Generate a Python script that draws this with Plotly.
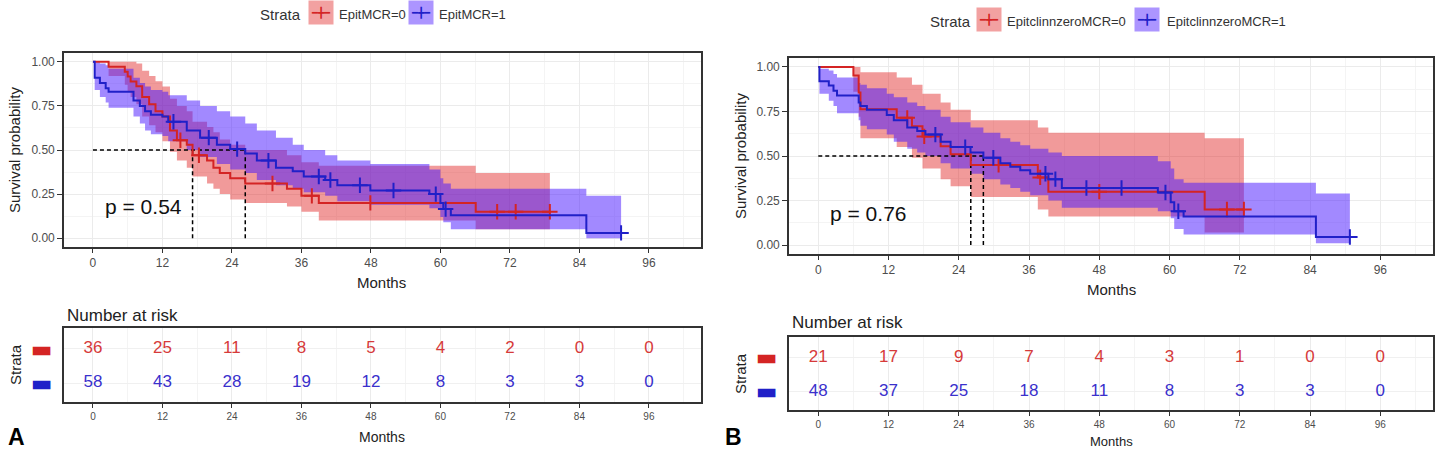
import plotly.graph_objects as go

W, H = 1443, 450


def X(px):
    return px / W


def Y(py):
    return 1 - py / H


month_ticks_step = 12

# ---------------- Panel A data ----------------
a_strata = ["EpitMCR=0", "EpitMCR=1"]
a0_time = [0, 2.7, 5.5, 6.0, 6.5, 7.5, 8.5, 9.7, 10.8, 12.0, 13.3, 14.5, 16.2, 17.2, 19.7, 20.8, 21.9, 23.7, 26.3, 33.5, 36.0, 39.0, 66.1, 78.9]
a0_surv = [1.0, 0.972, 0.944, 0.917, 0.889, 0.861, 0.80, 0.76, 0.72, 0.69, 0.61, 0.555, 0.53, 0.47, 0.44, 0.40, 0.37, 0.34, 0.31, 0.28, 0.24, 0.20, 0.15, 0.15]
a0_upper = [1.0, 1.0, 1.0, 1.0, 1.0, 0.99, 0.95, 0.92, 0.89, 0.86, 0.79, 0.75, 0.72, 0.66, 0.63, 0.60, 0.56, 0.53, 0.50, 0.47, 0.43, 0.41, 0.37, 0.37]
a0_lower = [1.0, 0.92, 0.87, 0.83, 0.80, 0.76, 0.69, 0.64, 0.60, 0.55, 0.49, 0.44, 0.40, 0.35, 0.31, 0.28, 0.25, 0.22, 0.20, 0.18, 0.15, 0.10, 0.05, 0.05]
a0_cens = [15.1, 18.3, 31.0, 37.8, 47.9, 69.8, 73.0, 78.9]

a1_time = [0, 0.3, 1.2, 2.2, 2.7, 7.0, 8.1, 9.0, 10.0, 12.0, 13.0, 16.2, 18.5, 21.4, 23.7, 26.3, 28.3, 31.6, 34.5, 36.4, 40.1, 42.2, 47.9, 58.1, 60.0, 60.5, 61.8, 85.2, 91.2]
a1_surv = [1.0, 0.91, 0.88, 0.85, 0.83, 0.78, 0.75, 0.72, 0.70, 0.69, 0.66, 0.61, 0.57, 0.53, 0.505, 0.48, 0.44, 0.40, 0.38, 0.35, 0.33, 0.30, 0.27, 0.25, 0.20, 0.165, 0.13, 0.03, 0.03]
a1_upper = [1.0, 1.0, 0.99, 0.98, 0.96, 0.91, 0.88, 0.86, 0.84, 0.83, 0.81, 0.78, 0.75, 0.72, 0.69, 0.65, 0.61, 0.57, 0.53, 0.50, 0.47, 0.44, 0.42, 0.39, 0.34, 0.31, 0.28, 0.24, 0.24]
a1_lower = [1.0, 0.84, 0.80, 0.77, 0.74, 0.69, 0.65, 0.61, 0.59, 0.58, 0.55, 0.50, 0.46, 0.42, 0.39, 0.37, 0.33, 0.30, 0.28, 0.26, 0.24, 0.21, 0.19, 0.17, 0.12, 0.09, 0.05, 0.0, 0.0]
a1_cens = [13.9, 20.0, 24.9, 30.3, 39.0, 41.0, 46.1, 51.9, 59.2, 60.9, 91.2]

a_medians = [17.2, 26.3]
a_pvalue = "p = 0.54"
a_risk_times = [0, 12, 24, 36, 48, 60, 72, 84, 96]
a_risk0 = [36, 25, 11, 8, 5, 4, 2, 0, 0]
a_risk1 = [58, 43, 28, 19, 12, 8, 3, 3, 0]

# ---------------- Panel B data ----------------
b_strata = ["EpitclinnzeroMCR=0", "EpitclinnzeroMCR=1"]
b0_time = [0, 6.0, 6.9, 7.2, 13.4, 16.0, 17.8, 20.9, 22.6, 26.05, 37.5, 39.3, 66.0, 72.7]
b0_surv = [1.0, 0.952, 0.857, 0.762, 0.714, 0.667, 0.61, 0.555, 0.51, 0.45, 0.38, 0.30, 0.20, 0.20]
b0_upper = [1.0, 1.0, 1.0, 0.97, 0.94, 0.90, 0.85, 0.80, 0.76, 0.70, 0.66, 0.63, 0.60, 0.60]
b0_lower = [1.0, 0.86, 0.72, 0.60, 0.55, 0.49, 0.43, 0.37, 0.33, 0.27, 0.20, 0.16, 0.07, 0.07]
b0_cens = [15.2, 18.1, 30.8, 37.9, 48.0, 69.8, 72.7]

b1_time = [0, 0.2, 1.8, 2.6, 3.2, 6.9, 7.2, 8.3, 11.7, 12.9, 15.2, 16.9, 18.3, 20.9, 22.6, 26.0, 28.2, 31.1, 32.8, 34.5, 36.2, 39.3, 41.6, 58.0, 60.2, 60.8, 62.4, 85.0, 90.8]
b1_surv = [1.0, 0.92, 0.895, 0.866, 0.84, 0.80, 0.78, 0.76, 0.73, 0.70, 0.66, 0.64, 0.62, 0.58, 0.55, 0.52, 0.49, 0.46, 0.44, 0.42, 0.40, 0.37, 0.32, 0.295, 0.24, 0.19, 0.16, 0.045, 0.045]
b1_upper = [1.0, 0.99, 0.98, 0.96, 0.94, 0.91, 0.90, 0.88, 0.85, 0.83, 0.80, 0.78, 0.76, 0.72, 0.69, 0.66, 0.63, 0.60, 0.58, 0.56, 0.54, 0.52, 0.50, 0.47, 0.43, 0.37, 0.35, 0.29, 0.29]
b1_lower = [1.0, 0.85, 0.81, 0.78, 0.74, 0.70, 0.67, 0.65, 0.62, 0.58, 0.54, 0.52, 0.50, 0.46, 0.43, 0.40, 0.37, 0.34, 0.32, 0.30, 0.28, 0.25, 0.21, 0.19, 0.15, 0.09, 0.06, 0.01, 0.01]
b1_cens = [20.0, 25.1, 29.9, 38.8, 40.5, 45.8, 51.8, 59.3, 61.5, 90.8]

b_medians = [26.05, 28.2]
b_pvalue = "p = 0.76"
b_risk_times = [0, 12, 24, 36, 48, 60, 72, 84, 96]
b_risk0 = [21, 17, 9, 7, 4, 3, 1, 0, 0]
b_risk1 = [48, 37, 25, 18, 11, 8, 3, 3, 0]

# ---------------- styles ----------------
RED = "#D42424"
BLUE = "#2020C8"
RED_FILL = "rgba(225,30,30,0.45)"
BLUE_FILL = "rgba(70,20,255,0.50)"
RED_KEY = "rgba(225,30,30,0.42)"
BLUE_KEY = "rgba(70,20,255,0.45)"
RED_TXT = "#D63A3A"
BLUE_TXT = "#3A30CC"
FONT = "Liberation Sans, Arial, sans-serif"

fig = go.Figure()


def step_value(times, surv, t):
    v = surv[0]
    for ti, si in zip(times, surv):
        if ti <= t:
            v = si
    return v


def add_band(xa, ya, times, up, lo, fillc):
    fig.add_trace(go.Scatter(x=times, y=up, mode="lines", line=dict(width=0, shape="hv"),
                             hoverinfo="skip", showlegend=False, xaxis=xa, yaxis=ya))
    fig.add_trace(go.Scatter(x=times, y=lo, mode="lines", line=dict(width=0, shape="hv"),
                             fill="tonexty", fillcolor=fillc, hoverinfo="skip",
                             showlegend=False, xaxis=xa, yaxis=ya))


def add_curve(xa, ya, times, surv, cens, color):
    fig.add_trace(go.Scatter(x=times, y=surv, mode="lines", line=dict(width=2, shape="hv", color=color),
                             showlegend=False, xaxis=xa, yaxis=ya))
    fig.add_trace(go.Scatter(x=cens, y=[step_value(times, surv, c) for c in cens], mode="markers",
                             marker=dict(symbol="cross-thin", size=11, line=dict(width=2, color=color)),
                             showlegend=False, xaxis=xa, yaxis=ya))


def add_median(xa, ya, medians):
    fig.add_trace(go.Scatter(x=[0, max(medians)], y=[0.5, 0.5], mode="lines",
                             line=dict(color="black", width=1.5, dash="4px,3px"),
                             showlegend=False, xaxis=xa, yaxis=ya))
    for m in medians:
        fig.add_trace(go.Scatter(x=[m, m], y=[0, 0.5], mode="lines",
                                 line=dict(color="black", width=1.5, dash="4px,3px"),
                                 showlegend=False, xaxis=xa, yaxis=ya))


def add_risk(xa, ya, times, r0, r1):
    fig.add_trace(go.Scatter(x=times, y=[1] * len(times), mode="text", text=[str(v) for v in r0],
                             textfont=dict(size=17, color=RED_TXT, family=FONT),
                             showlegend=False, xaxis=xa, yaxis=ya))
    fig.add_trace(go.Scatter(x=times, y=[0] * len(times), mode="text", text=[str(v) for v in r1],
                             textfont=dict(size=17, color=BLUE_TXT, family=FONT),
                             showlegend=False, xaxis=xa, yaxis=ya))


# Panel A
add_band("x", "y", a0_time, a0_upper, a0_lower, RED_FILL)
add_band("x", "y", a1_time, a1_upper, a1_lower, BLUE_FILL)
add_median("x", "y", a_medians)
add_curve("x", "y", a0_time, a0_surv, a0_cens, RED)
add_curve("x", "y", a1_time, a1_surv, a1_cens, BLUE)
add_risk("x2", "y2", a_risk_times, a_risk0, a_risk1)

# Panel B
add_band("x3", "y3", b0_time, b0_upper, b0_lower, RED_FILL)
add_band("x3", "y3", b1_time, b1_upper, b1_lower, BLUE_FILL)
add_median("x3", "y3", b_medians)
add_curve("x3", "y3", b0_time, b0_surv, b0_cens, RED)
add_curve("x3", "y3", b1_time, b1_surv, b1_cens, BLUE)
add_risk("x4", "y4", b_risk_times, b_risk0, b_risk1)


def xaxis_style(domain, anchor, fsize):
    return dict(domain=domain, anchor=anchor, range=[-5, 105], tick0=0, dtick=month_ticks_step,
                ticks="outside", ticklen=4, tickcolor="#333", tickwidth=1,
                tickfont=dict(size=fsize, color="#4D4D4D", family=FONT),
                showline=True, mirror=True, linecolor="#333", linewidth=1.6,
                showgrid=True, gridcolor="#EBEBEB", gridwidth=1, zeroline=False,
                minor=dict(dtick=6, tick0=0, showgrid=True, gridcolor="#F4F4F4", gridwidth=0.7, ticks=""))


def yaxis_main(domain, anchor):
    return dict(domain=domain, anchor=anchor, range=[-0.05, 1.05], tick0=0, dtick=0.25, tickformat=".2f",
                ticks="outside", ticklen=5, tickcolor="#333", tickwidth=1,
                tickfont=dict(size=12, color="#4D4D4D", family=FONT),
                showline=True, mirror=True, linecolor="#333", linewidth=1.6,
                showgrid=True, gridcolor="#EBEBEB", gridwidth=1, zeroline=False,
                minor=dict(dtick=0.125, tick0=0, showgrid=True, gridcolor="#F4F4F4", gridwidth=0.7, ticks=""))


dash_red = '<span style="color:%s">▬</span>' % RED
dash_blue = '<span style="color:%s">▬</span>' % BLUE


def yaxis_risk(domain, anchor):
    return dict(domain=domain, anchor=anchor, range=[-0.55, 1.6], tickvals=[1, 0],
                ticktext=[dash_red, dash_blue], ticks="", ticklabelstandoff=5,
                tickfont=dict(size=23, family="DejaVu Sans"),
                showline=True, mirror=True, linecolor="#333", linewidth=1.6,
                showgrid=True, gridcolor="#F0F0F0", gridwidth=1, zeroline=False)


fig.update_layout(
    width=W, height=H, margin=dict(l=0, r=0, t=0, b=0),
    paper_bgcolor="white", plot_bgcolor="white", showlegend=False,
    font=dict(family=FONT),
    xaxis=xaxis_style([X(64), X(701)], "y", 12),
    yaxis=yaxis_main([Y(247), Y(53)], "x"),
    xaxis2=xaxis_style([X(64), X(701)], "y2", 10),
    yaxis2=yaxis_risk([Y(402), Y(328)], "x2"),
    xaxis3=xaxis_style([X(789), X(1433)], "y3", 12),
    yaxis3=yaxis_main([Y(254), Y(58)], "x3"),
    xaxis4=xaxis_style([X(789), X(1433)], "y4", 10),
    yaxis4=yaxis_risk([Y(410), Y(337)], "x4"),
)

ann = []


def txt(text, px, py, size, color="#222", xanchor="center", angle=0, bold=False):
    t = "<b>%s</b>" % text if bold else text
    ann.append(dict(text=t, x=X(px), y=Y(py), xref="paper", yref="paper", showarrow=False,
                    xanchor=xanchor, yanchor="middle", textangle=angle,
                    font=dict(size=size, color=color, family=FONT)))


def key(px, py, line_color, fill):
    ann.append(dict(text="━╋━", x=X(px), y=Y(py), xref="paper", yref="paper", showarrow=False,
                    xanchor="center", yanchor="middle", width=24, height=23, bgcolor=fill,
                    borderpad=0, font=dict(size=10, color=line_color, family="DejaVu Sans Mono")))


# Legends
txt("Strata", 280, 15, 15, "#333")
key(321, 13, RED, RED_KEY)
txt(a_strata[0], 337, 15, 13, "#333", xanchor="left")
key(421, 13, BLUE, BLUE_KEY)
txt(a_strata[1], 437, 15, 13, "#333", xanchor="left")

txt("Strata", 950, 22, 15, "#333")
key(989, 20, RED, RED_KEY)
txt(b_strata[0], 1005, 22, 13, "#333", xanchor="left")
key(1147, 20, BLUE, BLUE_KEY)
txt(b_strata[1], 1165, 22, 13, "#333", xanchor="left")

# axis titles
txt("Survival probability", 15, 150, 15, "#222", angle=-90)
txt("Survival probability", 740, 156, 15, "#222", angle=-90)
txt("Months", 382, 282, 15, "#222")
txt("Months", 1111, 289, 15, "#222")

# p-values
ann.append(dict(text=a_pvalue, x=1.7, y=0.18, xref="x", yref="y", showarrow=False, xanchor="left",
                yanchor="middle", font=dict(size=21, color="#111", family=FONT)))
ann.append(dict(text=b_pvalue, x=1.7, y=0.18, xref="x3", yref="y3", showarrow=False, xanchor="left",
                yanchor="middle", font=dict(size=21, color="#111", family=FONT)))

# risk tables
txt("Number at risk", 65, 315, 17, "#222", xanchor="left")
txt("Number at risk", 790, 322, 17, "#222", xanchor="left")
txt("Strata", 15, 365, 15, "#222", angle=-90)
txt("Strata", 740, 373, 15, "#222", angle=-90)
txt("Months", 382, 437, 14, "#222")
txt("Months", 1111, 441, 13, "#222")

# panel letters
txt("A", 16, 437, 23, "#000", bold=True)
txt("B", 734, 437, 23, "#000", bold=True)

fig.update_layout(annotations=ann)
fig.write_html("out.html")
